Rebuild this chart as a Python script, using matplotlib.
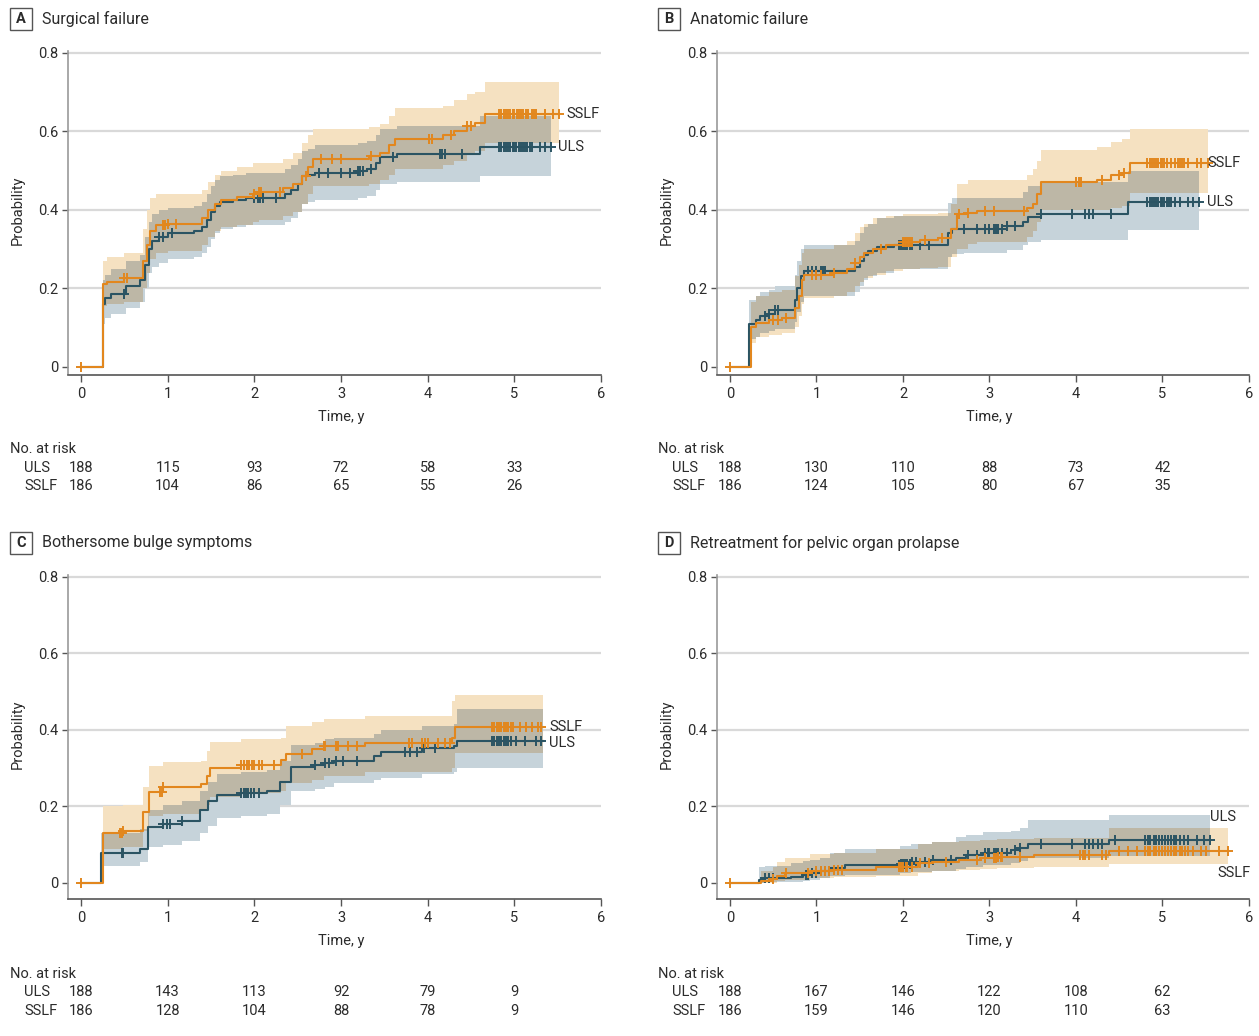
import numpy as np
import matplotlib
matplotlib.use('Agg')
import matplotlib.pyplot as plt
from matplotlib.transforms import blended_transform_factory
from matplotlib.patches import Rectangle

plt.rcParams['font.family'] = ['Roboto', 'DejaVu Sans']

# ---------------- data ----------------
groups = ['ULS', 'SSLF']
time_ticks = [0, 1, 2, 3, 4, 5, 6]
risk_times = [0, 1, 2, 3, 4, 5]

# Panel A: Surgical failure
A_uls_t = [0.25, 0.28, 0.35, 0.52, 0.68, 0.74, 0.78, 0.82, 0.90, 1.00, 1.30, 1.40, 1.45, 1.50, 1.55,
           1.60, 1.75, 1.90, 2.35, 2.42, 2.50, 2.55, 2.62, 2.70, 3.20, 3.30, 3.40, 3.45, 3.65, 4.60]
A_uls_est = [0.16, 0.175, 0.185, 0.205, 0.22, 0.26, 0.30, 0.32, 0.33, 0.34, 0.345, 0.355, 0.375, 0.395, 0.41,
             0.42, 0.425, 0.43, 0.44, 0.45, 0.465, 0.485, 0.49, 0.495, 0.50, 0.505, 0.52, 0.535, 0.542, 0.56]
A_uls_lo = [0.11, 0.125, 0.135, 0.15, 0.165, 0.20, 0.24, 0.255, 0.265, 0.275, 0.28, 0.29, 0.305, 0.325, 0.34,
            0.35, 0.355, 0.36, 0.37, 0.38, 0.395, 0.415, 0.42, 0.425, 0.43, 0.435, 0.45, 0.465, 0.47, 0.485]
A_uls_hi = [0.22, 0.235, 0.25, 0.27, 0.285, 0.33, 0.37, 0.39, 0.40, 0.405, 0.41, 0.42, 0.44, 0.46, 0.475,
            0.485, 0.49, 0.495, 0.505, 0.515, 0.53, 0.55, 0.555, 0.565, 0.57, 0.575, 0.59, 0.605, 0.615, 0.64]
A_uls_end = 5.42
A_uls_cens = [0.5, 0.9, 0.95, 1.05, 2.0, 2.04, 2.07, 2.1, 2.25, 2.75, 2.85, 3.0, 3.1, 3.2, 3.22, 3.25, 3.35,
              3.6, 4.14, 4.17, 4.2, 4.4, 4.82, 4.85, 4.88, 4.9, 4.93, 4.95, 4.98, 5.0, 5.02, 5.05, 5.08, 5.1,
              5.12, 5.15, 5.18, 5.2, 5.3, 5.35, 5.42]

A_sslf_t = [0.25, 0.30, 0.50, 0.72, 0.76, 0.80, 0.86, 1.00, 1.40, 1.47, 1.55, 1.62, 1.80, 1.98, 2.05,
            2.33, 2.45, 2.55, 2.62, 2.68, 3.32, 3.45, 3.55, 3.62, 4.18, 4.30, 4.45, 4.55, 4.66]
A_sslf_est = [0.21, 0.215, 0.225, 0.27, 0.31, 0.345, 0.36, 0.365, 0.38, 0.40, 0.415, 0.425, 0.432, 0.44, 0.445,
              0.455, 0.465, 0.485, 0.51, 0.53, 0.537, 0.545, 0.565, 0.58, 0.59, 0.60, 0.613, 0.622, 0.645]
A_sslf_lo = [0.155, 0.16, 0.165, 0.20, 0.24, 0.275, 0.29, 0.295, 0.31, 0.33, 0.345, 0.355, 0.36, 0.37, 0.375,
             0.385, 0.395, 0.415, 0.44, 0.46, 0.465, 0.475, 0.49, 0.505, 0.515, 0.525, 0.54, 0.55, 0.57]
A_sslf_hi = [0.27, 0.28, 0.29, 0.35, 0.40, 0.43, 0.44, 0.44, 0.45, 0.47, 0.49, 0.50, 0.51, 0.52, 0.52,
             0.53, 0.545, 0.57, 0.59, 0.605, 0.61, 0.62, 0.64, 0.66, 0.665, 0.68, 0.695, 0.70, 0.725]
A_sslf_end = 5.52
A_sslf_cens = [0.0, 0.5, 0.53, 0.95, 0.97, 1.0, 1.1, 2.0, 2.05, 2.08, 2.3, 2.6, 2.77, 2.9, 3.0, 3.35, 4.02,
               4.05, 4.27, 4.45, 4.5, 4.82, 4.85, 4.88, 4.9, 4.93, 4.95, 4.98, 5.0, 5.03, 5.05, 5.08, 5.1, 5.13,
               5.16, 5.2, 5.23, 5.25, 5.35, 5.45, 5.52]
A_risk_uls = [188, 115, 93, 72, 58, 33]
A_risk_sslf = [186, 104, 86, 65, 55, 26]

# Panel B: Anatomic failure
B_uls_t = [0.22, 0.30, 0.35, 0.45, 0.52, 0.75, 0.78, 0.82, 0.85, 1.45, 1.50, 1.55, 1.60, 1.70, 1.90,
           2.52, 2.57, 2.70, 3.20, 3.39, 3.45, 3.60, 4.60]
B_uls_est = [0.11, 0.12, 0.13, 0.135, 0.145, 0.17, 0.20, 0.23, 0.245, 0.255, 0.27, 0.285, 0.295, 0.305, 0.31,
             0.34, 0.35, 0.352, 0.358, 0.368, 0.382, 0.39, 0.42]
B_uls_lo = [0.07, 0.075, 0.085, 0.09, 0.095, 0.115, 0.14, 0.165, 0.18, 0.19, 0.205, 0.22, 0.23, 0.24, 0.248,
            0.28, 0.287, 0.29, 0.297, 0.31, 0.318, 0.323, 0.348]
B_uls_hi = [0.17, 0.18, 0.19, 0.195, 0.205, 0.235, 0.27, 0.30, 0.31, 0.32, 0.34, 0.355, 0.365, 0.38, 0.385,
            0.418, 0.429, 0.43, 0.43, 0.445, 0.46, 0.471, 0.50]
B_uls_end = 5.42
B_uls_cens = [0.4, 0.45, 0.52, 0.55, 0.9, 0.95, 1.0, 1.05, 1.08, 1.1, 1.95, 1.98, 2.0, 2.02, 2.05, 2.08, 2.1,
              2.2, 2.3, 2.7, 2.85, 2.95, 3.0, 3.05, 3.08, 3.1, 3.15, 3.2, 3.3, 3.6, 3.95, 4.1, 4.15, 4.2, 4.4,
              4.82, 4.85, 4.88, 4.9, 4.93, 4.95, 4.98, 5.0, 5.02, 5.05, 5.08, 5.1, 5.15, 5.2, 5.3, 5.35, 5.42]

B_sslf_t = [0.24, 0.30, 0.45, 0.60, 0.75, 0.80, 0.83, 0.86, 1.20, 1.35, 1.45, 1.50, 1.55, 1.65, 1.80, 2.00,
            2.20, 2.40, 2.55, 2.63, 2.75, 2.85, 3.43, 3.50, 3.55, 3.60, 4.24, 4.41, 4.53, 4.63]
B_sslf_est = [0.10, 0.112, 0.12, 0.125, 0.15, 0.18, 0.22, 0.234, 0.24, 0.25, 0.265, 0.28, 0.29, 0.30, 0.31,
              0.318, 0.322, 0.327, 0.35, 0.39, 0.393, 0.397, 0.405, 0.415, 0.44, 0.47, 0.477, 0.488, 0.494, 0.52]
B_sslf_lo = [0.06, 0.075, 0.08, 0.085, 0.10, 0.13, 0.16, 0.175, 0.18, 0.19, 0.205, 0.215, 0.225, 0.235, 0.245,
             0.25, 0.252, 0.255, 0.28, 0.30, 0.312, 0.318, 0.33, 0.345, 0.37, 0.40, 0.40, 0.405, 0.41, 0.442]
B_sslf_hi = [0.165, 0.18, 0.19, 0.195, 0.23, 0.26, 0.29, 0.30, 0.31, 0.32, 0.34, 0.355, 0.365, 0.38, 0.385,
             0.39, 0.39, 0.392, 0.415, 0.467, 0.476, 0.477, 0.488, 0.505, 0.525, 0.552, 0.56, 0.572, 0.58, 0.605]
B_sslf_end = 5.53
B_sslf_cens = [0.0, 0.5, 0.55, 0.65, 0.95, 1.0, 1.05, 1.2, 1.45, 1.75, 2.0, 2.02, 2.04, 2.06, 2.08, 2.1, 2.25,
               2.45, 2.65, 2.75, 2.95, 3.05, 3.4, 4.0, 4.03, 4.06, 4.3, 4.5, 4.55, 4.82, 4.85, 4.88, 4.9, 4.93,
               4.95, 4.98, 5.0, 5.02, 5.05, 5.1, 5.15, 5.18, 5.2, 5.22, 5.25, 5.3, 5.4, 5.45, 5.53]
B_risk_uls = [188, 130, 110, 88, 73, 42]
B_risk_sslf = [186, 124, 105, 80, 67, 35]

# Panel C: Bothersome bulge symptoms
C_uls_t = [0.235, 0.68, 0.77, 0.95, 1.17, 1.37, 1.46, 1.57, 1.85, 2.15, 2.30, 2.42, 2.70, 2.82, 2.92,
           3.38, 3.46, 3.94, 4.30, 4.34]
C_uls_est = [0.078, 0.09, 0.145, 0.153, 0.162, 0.19, 0.213, 0.231, 0.235, 0.24, 0.265, 0.302, 0.307, 0.314,
             0.32, 0.333, 0.343, 0.352, 0.357, 0.37]
C_uls_lo = [0.045, 0.055, 0.095, 0.10, 0.11, 0.13, 0.15, 0.17, 0.175, 0.18, 0.205, 0.24, 0.245, 0.25, 0.26,
            0.27, 0.275, 0.285, 0.29, 0.30]
C_uls_hi = [0.13, 0.14, 0.19, 0.205, 0.215, 0.24, 0.265, 0.285, 0.29, 0.295, 0.32, 0.36, 0.365, 0.375, 0.38,
            0.39, 0.40, 0.41, 0.415, 0.455]
C_uls_end = 5.33
C_uls_cens = [0.47, 0.49, 0.95, 0.99, 1.03, 1.17, 1.85, 1.88, 1.9, 1.93, 1.96, 2.0, 2.05, 2.7, 2.82, 2.86,
              2.94, 3.02, 3.18, 3.74, 3.8, 3.88, 3.96, 4.08, 4.74, 4.77, 4.8, 4.82, 4.85, 4.88, 4.9, 4.93, 4.96,
              5.02, 5.12, 5.25, 5.31]

C_sslf_t = [0.255, 0.49, 0.713, 0.785, 0.95, 1.39, 1.45, 1.49, 1.85, 2.31, 2.37, 2.67, 2.80, 3.28, 4.28, 4.32]
C_sslf_est = [0.13, 0.137, 0.186, 0.238, 0.251, 0.259, 0.28, 0.30, 0.309, 0.322, 0.338, 0.351, 0.358, 0.365,
              0.378, 0.408]
C_sslf_lo = [0.09, 0.095, 0.135, 0.175, 0.18, 0.19, 0.205, 0.225, 0.235, 0.24, 0.26, 0.27, 0.28, 0.29, 0.30, 0.34]
C_sslf_hi = [0.20, 0.205, 0.25, 0.305, 0.315, 0.32, 0.345, 0.368, 0.376, 0.38, 0.41, 0.422, 0.428, 0.437,
             0.475, 0.49]
C_sslf_end = 5.33
C_sslf_cens = [0.0, 0.45, 0.47, 0.49, 0.91, 0.93, 0.95, 1.85, 1.88, 1.91, 1.94, 1.97, 2.0, 2.05, 2.09, 2.23,
               2.55, 2.8, 2.82, 2.94, 2.97, 3.08, 3.18, 3.78, 3.82, 3.94, 3.97, 4.0, 4.12, 4.2, 4.26, 4.74, 4.77,
               4.8, 4.82, 4.85, 4.88, 4.9, 4.93, 4.96, 4.98, 5.06, 5.14, 5.2, 5.27, 5.31]
C_risk_uls = [188, 143, 113, 92, 79, 9]
C_risk_sslf = [186, 128, 104, 88, 78, 9]

# Panel D: Retreatment for pelvic organ prolapse
D_uls_t = [0.34, 0.40, 0.70, 0.84, 0.92, 1.04, 1.16, 1.33, 1.97, 2.09, 2.33, 2.61, 2.73, 2.93, 3.25, 3.35,
           3.45, 4.38]
D_uls_est = [0.007, 0.012, 0.015, 0.020, 0.025, 0.031, 0.039, 0.046, 0.050, 0.055, 0.059, 0.066, 0.072, 0.079,
             0.085, 0.092, 0.103, 0.113]
D_uls_lo = [0.0, 0.002, 0.003, 0.006, 0.008, 0.012, 0.017, 0.022, 0.025, 0.029, 0.031, 0.037, 0.042, 0.046,
            0.051, 0.057, 0.065, 0.071]
D_uls_hi = [0.041, 0.044, 0.051, 0.057, 0.061, 0.066, 0.078, 0.090, 0.097, 0.103, 0.108, 0.121, 0.126, 0.132,
            0.137, 0.143, 0.164, 0.177]
D_uls_end = 5.55
D_uls_cens = [0.4, 0.45, 0.5, 0.88, 0.9, 0.95, 1.0, 1.05, 1.1, 1.15, 1.95, 1.98, 2.0, 2.02, 2.05, 2.08, 2.1,
              2.15, 2.25, 2.35, 2.55, 2.75, 2.85, 2.95, 2.98, 3.0, 3.05, 3.08, 3.1, 3.15, 3.2, 3.3, 3.35, 3.6,
              3.95, 4.1, 4.15, 4.2, 4.25, 4.3, 4.45, 4.8, 4.83, 4.86, 4.9, 4.93, 4.96, 5.0, 5.03, 5.06, 5.1,
              5.13, 5.16, 5.2, 5.25, 5.3, 5.4, 5.48, 5.55]

D_sslf_t = [0.36, 0.50, 0.54, 0.64, 0.92, 1.20, 1.69, 2.17, 2.33, 2.65, 2.89, 3.09, 3.51, 4.38]
D_sslf_est = [0.005, 0.009, 0.018, 0.025, 0.030, 0.035, 0.042, 0.052, 0.056, 0.061, 0.065, 0.067, 0.073, 0.083]
D_sslf_lo = [0.0, 0.001, 0.005, 0.008, 0.012, 0.015, 0.019, 0.026, 0.030, 0.033, 0.036, 0.039, 0.042, 0.050]
D_sslf_hi = [0.032, 0.042, 0.055, 0.065, 0.076, 0.078, 0.088, 0.103, 0.107, 0.109, 0.111, 0.114, 0.118, 0.143]
D_sslf_end = 5.76
D_sslf_cens = [0.0, 0.5, 0.65, 0.9, 1.0, 1.05, 1.1, 1.15, 1.2, 1.25, 1.3, 1.95, 1.98, 2.0, 2.03, 2.05, 2.1,
               2.2, 2.3, 2.5, 2.85, 2.95, 3.05, 3.08, 3.1, 3.13, 3.15, 3.35, 4.05, 4.08, 4.1, 4.15, 4.3, 4.35,
               4.5, 4.6, 4.7, 4.8, 4.83, 4.86, 4.9, 4.93, 4.96, 5.0, 5.03, 5.06, 5.1, 5.13, 5.16, 5.2, 5.23,
               5.26, 5.3, 5.35, 5.45, 5.5, 5.65, 5.76]
D_risk_uls = [188, 167, 146, 122, 108, 62]
D_risk_sslf = [186, 159, 146, 120, 110, 63]

panel_letters = ['A', 'B', 'C', 'D']
panel_titles = ['Surgical failure', 'Anatomic failure', 'Bothersome bulge symptoms',
                'Retreatment for pelvic organ prolapse']

# ---------------- style ----------------
W, H = 1259, 1036
ORANGE = '#E2871E'
TEAL = '#2B5463'
ORANGE_BAND = '#F5E1C1'
TEAL_BAND = '#C6D3DA'
OVERLAP_BAND = '#BDB7A6'
TXT = '#2b2b2b'
FS_TICK = 10.5
FS_TITLE = 11.5

fig = plt.figure(figsize=(W / 100, H / 100), dpi=100)


def fx(px):
    return px / W


def fy(py):
    return 1 - py / H


def value_at(t_knots, vals, end, g):
    if g < t_knots[0] or g >= end:
        return np.nan
    return vals[np.searchsorted(t_knots, g, side='right') - 1]


def est_at(t_knots, vals, g):
    if g < t_knots[0]:
        return 0.0
    return vals[np.searchsorted(t_knots, g, side='right') - 1]


def expand(grid, f):
    xs, ys = [], []
    for i in range(len(grid) - 1):
        v = f(grid[i])
        xs += [grid[i], grid[i + 1]]
        ys += [v, v]
    return np.array(xs), np.array(ys, dtype=float)


def draw_panel(ax, g1, g2, label_pos, label_z):
    grid = sorted(set(list(g1[0]) + list(g2[0]) + [g1[4], g2[4]]))
    xs, lo1 = expand(grid, lambda g: value_at(g1[0], g1[2], g1[4], g))
    _, hi1 = expand(grid, lambda g: value_at(g1[0], g1[3], g1[4], g))
    _, lo2 = expand(grid, lambda g: value_at(g2[0], g2[2], g2[4], g))
    _, hi2 = expand(grid, lambda g: value_at(g2[0], g2[3], g2[4], g))
    m1 = ~np.isnan(lo1)
    m2 = ~np.isnan(lo2)
    ax.fill_between(xs, np.nan_to_num(lo2), np.nan_to_num(hi2), where=m2, color=ORANGE_BAND, lw=0, zorder=1)
    ax.fill_between(xs, np.nan_to_num(lo1), np.nan_to_num(hi1), where=m1, color=TEAL_BAND, lw=0, zorder=1.1)
    olo = np.fmax(lo1, lo2)
    ohi = np.fmin(hi1, hi2)
    mo = m1 & m2 & (ohi > olo)
    ax.fill_between(xs, np.nan_to_num(olo), np.nan_to_num(ohi), where=mo, color=OVERLAP_BAND, lw=0, zorder=1.2)

    for g, col, z in [(g1, TEAL, 3), (g2, ORANGE, 4)]:
        t, est, lo, hi, end, cens = g
        x = [0.0] + list(t) + [end]
        y = [0.0] + list(est) + [est[-1]]
        ax.step(x, y, where='post', color=col, lw=1.5, zorder=z)
        cy = [est_at(t, est, c) for c in cens]
        ax.plot(cens, cy, ls='none', marker='+', ms=6.5, mew=1.4, color=col, zorder=z)

    for name, (lx, ly) in zip(groups, label_pos):
        ax.text(lx, ly, name, ha='left', va='center', fontsize=FS_TICK, color=TXT, zorder=label_z)


def style_axes(ax, ymin):
    ax.set_xlim(-0.15, 6.0)
    ax.set_ylim(ymin, 0.805)
    ax.set_yticks([0, 0.2, 0.4, 0.6, 0.8])
    ax.set_yticklabels(['0', '0.2', '0.4', '0.6', '0.8'])
    ax.set_xticks(time_ticks)
    ax.set_xticklabels([str(v) for v in time_ticks])
    for yv in [0.2, 0.4, 0.6, 0.8]:
        ax.axhline(yv, color='#d9d9d9', lw=1.6, zorder=0.9)
    ax.spines['top'].set_visible(False)
    ax.spines['right'].set_visible(False)
    ax.spines['left'].set_color('#9a9a9a')
    ax.spines['bottom'].set_color('#555555')
    ax.spines['left'].set_linewidth(1.2)
    ax.spines['bottom'].set_linewidth(1.2)
    ax.tick_params(axis='y', length=4, width=1, color='#555555', pad=3, labelsize=FS_TICK, labelcolor=TXT)
    ax.tick_params(axis='x', length=5, width=1, color='#555555', pad=4, labelsize=FS_TICK, labelcolor=TXT)
    ax.text(3.15 / 6.15, -0.131, 'Time, y', transform=ax.transAxes, ha='center', va='center',
            fontsize=FS_TICK, color=TXT)
    ax.text(-0.094, 0.508, 'Probability', transform=ax.transAxes, ha='center', va='center', rotation=90,
            fontsize=FS_TICK, color=TXT)


panels = [
    dict(box=(68, 51, 601, 374.5), ymin=-0.02, hdr=(10, 8), risk_y=(449, 468, 486), lz=5,
         g1=(A_uls_t, A_uls_est, A_uls_lo, A_uls_hi, A_uls_end, A_uls_cens),
         g2=(A_sslf_t, A_sslf_est, A_sslf_lo, A_sslf_hi, A_sslf_end, A_sslf_cens),
         risk=(A_risk_uls, A_risk_sslf),
         lab=[(A_uls_end + 0.08, A_uls_est[-1]), (A_sslf_end + 0.08, A_sslf_est[-1])]),
    dict(box=(717, 51, 1249, 374.5), ymin=-0.02, hdr=(658, 8), risk_y=(449, 468, 486), lz=5,
         g1=(B_uls_t, B_uls_est, B_uls_lo, B_uls_hi, B_uls_end, B_uls_cens),
         g2=(B_sslf_t, B_sslf_est, B_sslf_lo, B_sslf_hi, B_sslf_end, B_sslf_cens),
         risk=(B_risk_uls, B_risk_sslf),
         lab=[(B_uls_end + 0.09, B_uls_est[-1]), (B_sslf_end - 0.01, B_sslf_est[-1])]),
    dict(box=(68, 575, 601, 899), ymin=-0.042, hdr=(10, 532), risk_y=(974, 992, 1011), lz=5,
         g1=(C_uls_t, C_uls_est, C_uls_lo, C_uls_hi, C_uls_end, C_uls_cens),
         g2=(C_sslf_t, C_sslf_est, C_sslf_lo, C_sslf_hi, C_sslf_end, C_sslf_cens),
         risk=(C_risk_uls, C_risk_sslf),
         lab=[(C_uls_end + 0.07, C_uls_est[-1] - 0.005), (C_sslf_end + 0.07, C_sslf_est[-1])]),
    dict(box=(717, 575, 1249, 899), ymin=-0.042, hdr=(658, 532), risk_y=(974, 992, 1011), lz=0.8,
         g1=(D_uls_t, D_uls_est, D_uls_lo, D_uls_hi, D_uls_end, D_uls_cens),
         g2=(D_sslf_t, D_sslf_est, D_sslf_lo, D_sslf_hi, D_sslf_end, D_sslf_cens),
         risk=(D_risk_uls, D_risk_sslf),
         lab=[(5.55, 0.173), (5.63, 0.027)]),
]

for i, p in enumerate(panels):
    x0, y0, x1, y1 = p['box']
    ax = fig.add_axes([fx(x0), fy(y1), (x1 - x0) / W, (y1 - y0) / H])
    style_axes(ax, p['ymin'])
    draw_panel(ax, p['g1'], p['g2'], p['lab'], p['lz'])

    hx, hy = p['hdr']
    fig.patches.append(Rectangle((fx(hx), fy(hy + 22)), 22 / W, 22 / H, transform=fig.transFigure,
                                 fill=False, edgecolor='#555555', lw=1.0))
    fig.text(fx(hx + 11), fy(hy + 11), panel_letters[i], ha='center', va='center', fontsize=10.5,
             fontweight='bold', color=TXT)
    fig.text(fx(hx + 32), fy(hy + 11), panel_titles[i], ha='left', va='center', fontsize=FS_TITLE, color=TXT)

    ry0, ry1, ry2 = p['risk_y']
    fig.text(fx(hx), fy(ry0), 'No. at risk', ha='left', va='center', fontsize=FS_TICK, color=TXT)
    fig.text(fx(hx + 14), fy(ry1), groups[0], ha='left', va='center', fontsize=FS_TICK, color=TXT)
    fig.text(fx(hx + 14), fy(ry2), groups[1], ha='left', va='center', fontsize=FS_TICK, color=TXT)
    tr = blended_transform_factory(ax.transData, fig.transFigure)
    for t, n1, n2 in zip(risk_times, p['risk'][0], p['risk'][1]):
        ax.text(t, fy(ry1), str(n1), transform=tr, ha='center', va='center', fontsize=FS_TICK, color=TXT)
        ax.text(t, fy(ry2), str(n2), transform=tr, ha='center', va='center', fontsize=FS_TICK, color=TXT)

fig.savefig('out.png', dpi=100)
